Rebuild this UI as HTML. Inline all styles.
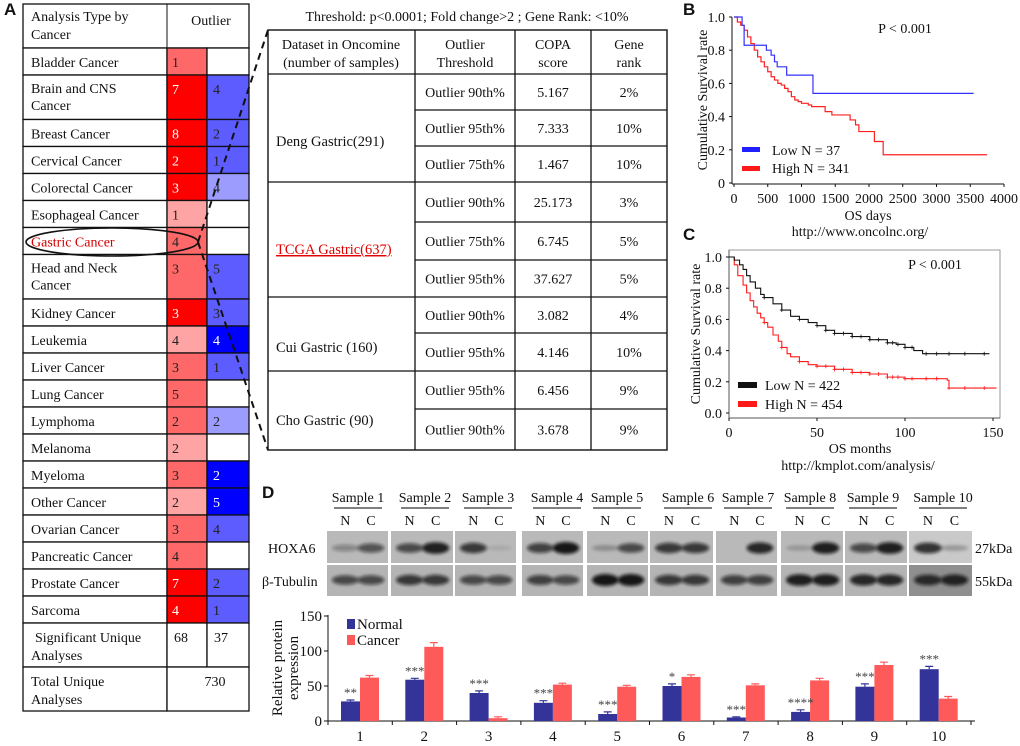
<!DOCTYPE html>
<html><head><meta charset="utf-8">
<style>
html,body{margin:0;padding:0;background:#fff;}
svg{display:block;font-family:"Liberation Serif",serif;}
</style></head>
<body>
<svg id="fig" width="1020" height="746" viewBox="0 0 1020 746" xmlns="http://www.w3.org/2000/svg">
<defs>
<filter id="blur" x="-50%" y="-100%" width="200%" height="300%"><feGaussianBlur stdDeviation="1.6"/></filter>
</defs>
</svg>
<script>
const NS='http://www.w3.org/2000/svg';
const svg=document.getElementById('fig');
function mk(tag,attrs,name,parent){
  const el=document.createElementNS(NS,tag);
  for(const k in attrs) el.setAttribute(k,attrs[k]);
  
  
  (parent||svg).appendChild(el);
  return el;
}
function txt(x,y,s,name,o){
  o=o||{};
  const el=mk('text',{x:x,y:y,'font-size':o.size||14,fill:o.fill||'#111','text-anchor':o.anchor||'start','font-family':o.font||'"Liberation Serif",serif','font-weight':o.weight||'normal'},name,o.parent);
  if(o.transform) el.setAttribute('transform',o.transform);
  if(o.deco) el.setAttribute('text-decoration',o.deco);
  el.textContent=s;
  return el;
}
function line(x1,y1,x2,y2,name,o){
  o=o||{};
  return mk('line',{x1:x1,y1:y1,x2:x2,y2:y2,stroke:o.stroke||'#111','stroke-width':o.w||1,'stroke-dasharray':o.dash||'none'},name);
}

/* ===== Panel letters ===== */
txt(4,15,'A','panel-label-a',{size:17,weight:'bold',font:'"Liberation Sans",sans-serif'});
txt(683,15,'B','panel-label-b',{size:17,weight:'bold',font:'"Liberation Sans",sans-serif'});
txt(683,240,'C','panel-label-c',{size:17,weight:'bold',font:'"Liberation Sans",sans-serif'});
txt(262,498,'D','panel-label-d',{size:17,weight:'bold',font:'"Liberation Sans",sans-serif'});

/* ===== Panel A table ===== */
const cancerNames=["Bladder Cancer","Brain and CNS|Cancer","Breast Cancer","Cervical Cancer","Colorectal Cancer","Esophageal Cancer","Gastric Cancer","Head and Neck|Cancer","Kidney Cancer","Leukemia","Liver Cancer","Lung Cancer","Lymphoma","Melanoma","Myeloma","Other Cancer","Ovarian Cancer","Pancreatic Cancer","Prostate Cancer","Sarcoma"];
const upCounts=[1,7,8,2,3,1,4,3,3,4,3,5,2,2,3,2,3,4,7,4];
const upLevels=["m","b","b","b","b","l","m","m","b","l","m","m","m","l","m","l","m","m","b","b"];
const downCounts=[null,4,2,1,4,null,null,5,3,4,1,null,2,null,2,5,4,null,2,1];
const downLevels=["","m","m","m","l","","","m","m","d","m","","l","","d","d","m","","m","m"];
const redCol={b:'#ff0000',m:'#ff6868',l:'#ffa4a4'};
const blueCol={m:'#5c5cff',l:'#9c9cff',d:'#0000ff'};
const TX0=23,TX1=167,TX2=207,TX3=249;
let ty=4;
mk('rect',{x:TX0,y:4,width:TX3-TX0,height:44,fill:'#fff',stroke:'#111','stroke-width':1.3},'table-a-header');
line(TX1,4,TX1,48,'table-a-divider');
txt(31,21,'Analysis Type by','table-a-header-text');
txt(31,39,'Cancer','table-a-header-text');
txt(211,25,'Outlier','table-a-outlier-header',{anchor:'middle'});
ty=48;
for(let i=0;i<cancerNames.length;i++){
  const two=cancerNames[i].indexOf('|')>=0;
  const h=two?44.5:27;
  mk('rect',{x:TX0,y:ty,width:TX1-TX0,height:h,fill:'#fff',stroke:'#111','stroke-width':1.3},'cancer-row-label');
  mk('rect',{x:TX1,y:ty,width:TX2-TX1,height:h,fill:redCol[upLevels[i]],stroke:'#111','stroke-width':1.3},'over-expression-cell');
  mk('rect',{x:TX2,y:ty,width:TX3-TX2,height:h,fill:downCounts[i]==null?'#fff':blueCol[downLevels[i]],stroke:'#111','stroke-width':1.3},'under-expression-cell');
  const parts=cancerNames[i].split('|');
  const isG=parts[0]==='Gastric Cancer';
  parts.forEach((p,j)=>txt(31,ty+(two?18+j*17:19),p,'cancer-name',{fill:isG?'#d40000':'#111'}));
  txt(172,ty+19,String(upCounts[i]),'over-count',{fill:upLevels[i]==='b'?'#fff':'#222'});
  if(downCounts[i]!=null) txt(213,ty+19,String(downCounts[i]),'under-count',{fill:downLevels[i]==='d'?'#fff':'#222'});
  ty+=h;
}
mk('rect',{x:TX0,y:623,width:TX1-TX0,height:44,fill:'#fff',stroke:'#111','stroke-width':1.3},'significant-row');
mk('rect',{x:TX1,y:623,width:TX2-TX1,height:44,fill:'#fff',stroke:'#111','stroke-width':1.3},'significant-up');
mk('rect',{x:TX2,y:623,width:TX3-TX2,height:44,fill:'#fff',stroke:'#111','stroke-width':1.3},'significant-down');
txt(35,642,'Significant Unique','significant-label');
txt(31,660,'Analyses','significant-label');
txt(174,642,'68','significant-up-value');
txt(214,642,'37','significant-down-value');
mk('rect',{x:TX0,y:667,width:TX1-TX0,height:44,fill:'#fff',stroke:'#111','stroke-width':1.3},'total-row');
mk('rect',{x:TX1,y:667,width:TX3-TX1,height:44,fill:'#fff',stroke:'#111','stroke-width':1.3},'total-value-cell');
txt(31,686,'Total Unique','total-label');
txt(31,704,'Analyses','total-label');
txt(215,686,'730','total-value',{anchor:'middle'});
mk('ellipse',{cx:112,cy:242,rx:86,ry:14,fill:'none',stroke:'#111','stroke-width':1.6},'gastric-highlight-oval');
line(198,242,268,30,'zoom-dash-top',{dash:'7,5',w:2});
line(198,242,268,450,'zoom-dash-bottom',{dash:'7,5',w:2});

/* ===== Middle table ===== */
txt(467,21,'Threshold: p<0.0001;  Fold change>2 ; Gene Rank: <10%','threshold-caption',{anchor:'middle',size:14});
const MX=[268,415,515,591,667];
const rowY=[30,74,110,146,182,222,260,297,333,371,409,450];
mk('rect',{x:268,y:30,width:399,height:420,fill:'#fff',stroke:'#111','stroke-width':1.4},'copa-table');
for(let k=1;k<4;k++) line(MX[k],30,MX[k],450,'copa-col-line',{w:1.3});
for(let r=1;r<rowY.length-1;r++){
  const full=[1,4,7,9].indexOf(r)>=0;
  line(full?268:415,rowY[r],667,rowY[r],'copa-row-line',{w:1.3});
}
txt(341,49,'Dataset  in Oncomine','col-header',{anchor:'middle'});
txt(341,67,'(number of samples)','col-header',{anchor:'middle'});
[['Outlier','Threshold'],['COPA','score'],['Gene','rank']].forEach((h,k)=>{
  const cx=(MX[k+1]+MX[k+2])/2;
  txt(cx,49,h[0],'col-header',{anchor:'middle'});
  txt(cx,67,h[1],'col-header',{anchor:'middle'});
});
const thresholds=["Outlier 90th%","Outlier 95th%","Outlier 75th%","Outlier 90th%","Outlier 75th%","Outlier 95th%","Outlier 90th%","Outlier 95th%","Outlier 95th%","Outlier 90th%"];
const copa=["5.167","7.333","1.467","25.173","6.745","37.627","3.082","4.146","6.456","3.678"];
const rank=["2%","10%","10%","3%","5%","5%","4%","10%","9%","9%"];
for(let r=0;r<10;r++){
  const cy=(rowY[r+1]+rowY[r+2])/2+5;
  txt(465,cy,thresholds[r],'outlier-threshold',{anchor:'middle'});
  txt(553,cy,copa[r],'copa-score',{anchor:'middle'});
  txt(629,cy,rank[r],'gene-rank',{anchor:'middle'});
}
txt(276,146,'Deng Gastric(291)','dataset-name',{size:14.5});
txt(276,254,'TCGA Gastric(637)','dataset-name-highlight',{size:14.5,fill:'#e00000',deco:'underline'});
txt(276,352,'Cui Gastric (160)','dataset-name',{size:14.5});
txt(276,425,'Cho Gastric (90)','dataset-name',{size:14.5});

/* ===== Panel B KM ===== */
const bLowT=[0,120,150,190,480,550,600,640,780,1170,3550];
const bLowS=[1,0.95,0.83,0.83,0.8,0.77,0.73,0.70,0.65,0.54,0.54];
const bHighT=[0,50,100,150,200,250,300,350,400,450,500,550,600,650,700,750,800,850,900,950,1000,1100,1150,1300,1350,1450,1700,1720,1800,1850,2050,2080,2180,2210,3750];
const bHighS=[1,0.97,0.95,0.92,0.88,0.84,0.8,0.76,0.73,0.7,0.67,0.64,0.62,0.6,0.59,0.57,0.55,0.52,0.5,0.49,0.48,0.47,0.46,0.46,0.43,0.41,0.41,0.38,0.35,0.31,0.31,0.25,0.25,0.17,0.17];
const bXTicks=[0,500,1000,1500,2000,2500,3000,3500,4000];
const bYTicks=[0,0.2,0.4,0.6,0.8,1.0];
const bx=t=>734+t*(1004-734)/4000, by=s=>183-s*166;
function stepPath(T,S,fx,fy){
  let d='M'+fx(T[0])+','+fy(S[0]);
  for(let i=1;i<T.length;i++){d+=' H'+fx(T[i])+' V'+fy(S[i]);}
  return d;
}
line(732,17,732,184,'b-y-axis');
line(732,184,1004,184,'b-x-axis');
bYTicks.forEach(v=>{line(729,by(v),732,by(v),'b-y-tick');txt(725,by(v)+5,v===0?'0':v.toFixed(1),'b-y-tick-label',{anchor:'end',size:14});});
bXTicks.forEach(v=>{line(bx(v),184,bx(v),187,'b-x-tick');txt(bx(v),203,String(v),'b-x-tick-label',{anchor:'middle',size:14});});
txt(868,220,'OS days','b-x-axis-title',{anchor:'middle',size:14});
txt(860,236,'http://www.oncolnc.org/','b-source-url',{anchor:'middle',size:14});
txt(707,100,'Cumulative Survival rate','b-y-axis-title',{anchor:'middle',size:14,transform:'rotate(-90 707 100)'});
mk('path',{d:stepPath(bHighT,bHighS,bx,by),fill:'none',stroke:'#ff2020','stroke-width':1.2},'b-high-curve');
mk('path',{d:stepPath(bLowT,bLowS,bx,by),fill:'none',stroke:'#3333ff','stroke-width':1.2},'b-low-curve');
txt(905,33,'P < 0.001','b-p-value',{anchor:'middle',size:14});
mk('rect',{x:742,y:147,width:18,height:5,fill:'#2020ff'},'b-legend-low-swatch');
mk('rect',{x:742,y:166,width:18,height:5,fill:'#ff1a1a'},'b-legend-high-swatch');
txt(772,155,'Low  N = 37','b-legend-low',{size:14});
txt(772,173,'High N = 341','b-legend-high',{size:14});

/* ===== Panel C KM ===== */
const cLowT=[0,3,6,8,10,12,15,18,20,25,30,35,40,45,50,55,60,70,80,90,95,100,105,110,148];
const cLowS=[1,0.98,0.95,0.92,0.88,0.84,0.8,0.76,0.74,0.70,0.66,0.62,0.60,0.58,0.56,0.53,0.51,0.49,0.47,0.45,0.44,0.42,0.40,0.38,0.38];
const cHighT=[0,3,5,8,10,12,14,16,18,20,22,25,28,30,33,35,40,45,50,60,70,80,90,100,110,124,125,152];
const cHighS=[1,0.95,0.88,0.82,0.77,0.72,0.68,0.64,0.61,0.58,0.55,0.50,0.46,0.42,0.38,0.36,0.33,0.31,0.30,0.28,0.26,0.25,0.23,0.22,0.22,0.21,0.16,0.16];
const cXTicks=[0,50,100,150];
const cYTicks=[0,0.2,0.4,0.6,0.8,1.0];
const cCensorT=[20,30,40,50,55,60,65,70,75,80,85,90,93,96,100,104,112,118,125,134,145];
const cx=t=>729+t*(993-729)/150, cy=s=>413-s*156;
mk('rect',{x:729,y:250,width:271,height:168,fill:'none',stroke:'#999','stroke-width':1},'c-plot-frame');
line(729,250,729,418,'c-y-axis',{stroke:'#555'});
line(729,418,1000,418,'c-x-axis',{stroke:'#555'});
cYTicks.forEach(v=>{line(726,cy(v),729,cy(v),'c-y-tick');txt(722,cy(v)+5,v.toFixed(1),'c-y-tick-label',{anchor:'end',size:14});});
cXTicks.forEach(v=>{line(cx(v),418,cx(v),421,'c-x-tick');txt(cx(v),437,String(v),'c-x-tick-label',{anchor:'middle',size:14});});
txt(860,453,'OS  months','c-x-axis-title',{anchor:'middle',size:14});
txt(858,470,'http://kmplot.com/analysis/','c-source-url',{anchor:'middle',size:14});
txt(700,334,'Cumulative Survival rate','c-y-axis-title',{anchor:'middle',size:14,transform:'rotate(-90 700 334)'});
mk('path',{d:stepPath(cHighT,cHighS,cx,cy),fill:'none',stroke:'#ff1a1a','stroke-width':1.1},'c-high-curve');
mk('path',{d:stepPath(cLowT,cLowS,cx,cy),fill:'none',stroke:'#111','stroke-width':1.1},'c-low-curve');
function survAt(T,S,t){let s=S[0];for(let i=0;i<T.length;i++){if(T[i]<=t)s=S[i];}return s;}
cCensorT.forEach(t=>{
  if(t<=148){const s=survAt(cLowT,cLowS,t);mk('path',{d:'M'+(cx(t)-2)+','+cy(s)+' h4 M'+cx(t)+','+(cy(s)-2)+' v4',stroke:'#111','stroke-width':0.8},'c-low-censor');}
  const s2=survAt(cHighT,cHighS,t);
  mk('path',{d:'M'+(cx(t)-2)+','+cy(s2)+' h4 M'+cx(t)+','+(cy(s2)-2)+' v4',stroke:'#ff1a1a','stroke-width':0.8},'c-high-censor');
});
txt(935,269,'P < 0.001','c-p-value',{anchor:'middle',size:14});
mk('rect',{x:738,y:382,width:19,height:6,fill:'#111'},'c-legend-low-swatch');
mk('rect',{x:738,y:401,width:19,height:6,fill:'#ff1a1a'},'c-legend-high-swatch');
txt(765,390,'Low   N = 422','c-legend-low',{size:14});
txt(765,409,'High  N = 454','c-legend-high',{size:14});

/* ===== Panel D blots ===== */
const sampleNames=["Sample 1","Sample 2","Sample 3","Sample 4","Sample 5","Sample 6","Sample 7","Sample 8","Sample 9","Sample 10"];
const blotX0=[327,391,455,522,587,650,716,781,845,909];
const blotX1=[388,453,516,583,648,713,777,843,907,972];
const labelCx=[358,425,488,557,617,688,748,810,873,943];
const hoxN=[0.35,0.7,0.8,0.75,0.25,0.8,0,0.2,0.7,0.85];
const hoxC=[0.65,0.95,0.1,1.0,0.7,0.8,0.9,0.95,0.95,0.25];
const tubN=[0.7,0.8,0.7,0.75,1.0,0.8,0.75,0.95,0.9,0.85];
const tubC=[0.7,0.8,0.7,0.7,1.0,0.8,0.75,0.95,0.9,0.9];
for(let i=0;i<10;i++){
  const w=blotX1[i]-blotX0[i];
  txt(labelCx[i],502,sampleNames[i],'sample-label',{anchor:'middle',size:14});
  line(labelCx[i]-24,508,labelCx[i]+24,508,'sample-underline',{w:1.5,stroke:'#555'});
  const nx=blotX0[i]+w*0.3, cxx=blotX0[i]+w*0.72;
  txt(nx,525,'N','lane-normal',{anchor:'middle',size:14});
  txt(cxx,525,'C','lane-cancer',{anchor:'middle',size:14});
  mk('rect',{x:blotX0[i],y:531,width:w,height:32,fill:i===9?'#c9c9c9':'#b9b9b9'},'hoxa6-blot');
  mk('rect',{x:blotX0[i],y:565,width:w,height:31,fill:i===9?'#8f8f8f':'#b4b4b4'},'tubulin-blot');
  [[nx,hoxN[i],548],[cxx,hoxC[i],548],[nx,tubN[i],580],[cxx,tubC[i],580]].forEach((b,j)=>{
    if(b[1]>0){
      mk('ellipse',{cx:b[0],cy:b[2],rx:w*0.22,ry:2+b[1]*4,fill:'#111','fill-opacity':Math.min(1,b[1]*0.95),filter:'url(#blur)'},'blot-band');
    }
  });
}
txt(268,553,'HOXA6','hoxa6-label',{size:14});
txt(262,586,'β-Tubulin','tubulin-label',{size:14});
txt(975,553,'27kDa','kda-27-label',{size:14});
txt(975,586,'55kDa','kda-55-label',{size:14});

/* ===== Panel D bar chart ===== */
const groups=["1","2","3","4","5","6","7","8","9","10"];
const normalVals=[28,59,40,26,10,50,5,13,49,74];
const cancerVals=[62,106,4,52,49,63,51,58,80,32];
const normalErr=[2,2,3,3,3,3,1,3,4,4];
const cancerErr=[3,6,2,2,2,3,2,3,4,3];
const sigLabels=["**","***","***","***","***","*","***","****","***","***"];
const yTicks=[0,50,100,150];
const dy=v=>721-v*0.70;
const gx=i=>360+64.3*i;
const BW=19;
line(328,615,328,721,'d-y-axis');
line(328,721,975,721,'d-x-axis');
yTicks.forEach(v=>{line(324,dy(v),328,dy(v),'d-y-tick');txt(322,dy(v)+5,String(v),'d-y-tick-label',{anchor:'end',size:15});});
for(let i=0;i<=10;i++){line(gx(i)-32,721,gx(i)-32,725,'d-x-tick');}
txt(282,668,'Relative protein','d-y-axis-title',{anchor:'middle',size:15,transform:'rotate(-90 282 668)'});
txt(298,668,'expression','d-y-axis-title',{anchor:'middle',size:15,transform:'rotate(-90 298 668)'});
groups.forEach((g,i)=>{
  const c=gx(i);
  mk('rect',{x:c-BW,y:dy(normalVals[i]),width:BW,height:721-dy(normalVals[i]),fill:'#33339a'},'bar-normal');
  mk('rect',{x:c,y:dy(cancerVals[i]),width:BW,height:721-dy(cancerVals[i]),fill:'#ff5a5a'},'bar-cancer');
  const ne=dy(normalVals[i]+normalErr[i]), ce=dy(cancerVals[i]+cancerErr[i]);
  mk('path',{d:'M'+(c-BW/2)+','+dy(normalVals[i])+' V'+ne+' M'+(c-BW/2-4)+','+ne+' h8',stroke:'#33339a','stroke-width':1.2,fill:'none'},'error-normal');
  mk('path',{d:'M'+(c+BW/2)+','+dy(cancerVals[i])+' V'+ce+' M'+(c+BW/2-4)+','+ce+' h8',stroke:'#ff5a5a','stroke-width':1.2,fill:'none'},'error-cancer');
  txt(c-BW/2,ne-3,sigLabels[i],'significance-stars',{anchor:'middle',size:13,fill:'#444'});
  txt(c,741,g,'d-x-tick-label',{anchor:'middle',size:15});
});
mk('rect',{x:347,y:619,width:8,height:10,fill:'#33339a'},'legend-normal-swatch');
mk('rect',{x:347,y:635,width:8,height:10,fill:'#ff5a5a'},'legend-cancer-swatch');
txt(357,629,'Normal','legend-normal',{size:15});
txt(357,645,'Cancer','legend-cancer',{size:15});
</script>
</body></html>
